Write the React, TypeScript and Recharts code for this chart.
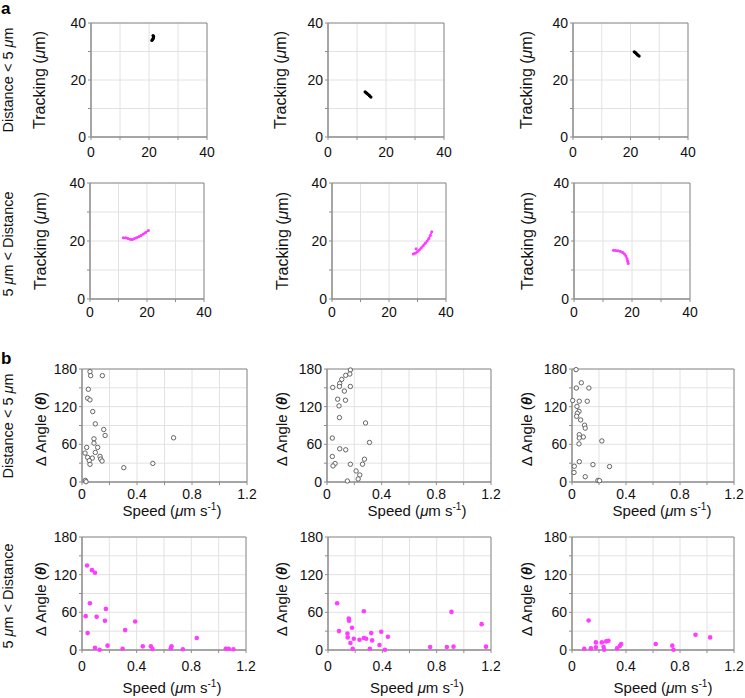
import React from 'react';
import { ScatterChart, Scatter, XAxis, YAxis, CartesianGrid, ReferenceArea } from 'recharts';

const FONT = '"Liberation Sans", Arial, Helvetica, sans-serif';
const MAGENTA = '#ff3cff';

// ---- Panel a: tracking (µm) ----
const trackTicks = [0, 10, 20, 30, 40];
const trackLabels = [0, 20, 40];

const trackNear1 = [
  { x: 21.4, y: 35.6 }, { x: 21.6, y: 35.2 }, { x: 21.5, y: 34.8 }, { x: 21.3, y: 34.3 }, { x: 21.0, y: 33.9 },
];
const trackNear2 = [
  { x: 12.8, y: 15.8 }, { x: 13.3, y: 15.4 }, { x: 13.8, y: 15.0 }, { x: 14.3, y: 14.5 }, { x: 14.8, y: 14.0 },
];
const trackNear3 = [
  { x: 21.3, y: 29.9 }, { x: 21.7, y: 29.6 }, { x: 22.1, y: 29.2 }, { x: 22.5, y: 28.8 }, { x: 23.0, y: 28.4 },
];
const trackFar1 = [
  { x: 11.7, y: 21.1 }, { x: 12.5, y: 21.1 }, { x: 13.3, y: 20.9 }, { x: 14.1, y: 20.6 }, { x: 14.8, y: 20.5 },
  { x: 15.5, y: 20.8 }, { x: 16.3, y: 21.1 }, { x: 17.1, y: 21.5 }, { x: 17.9, y: 21.9 }, { x: 18.7, y: 22.4 },
  { x: 19.5, y: 22.9 }, { x: 20.5, y: 23.6 },
];
const trackFar2 = [
  { x: 28.5, y: 15.5 }, { x: 29.2, y: 15.8 }, { x: 29.9, y: 16.3 }, { x: 30.6, y: 16.9 }, { x: 31.3, y: 17.6 },
  { x: 32.0, y: 18.4 }, { x: 32.7, y: 19.2 }, { x: 33.4, y: 20.0 }, { x: 34.0, y: 20.9 }, { x: 34.5, y: 21.9 },
  { x: 35.0, y: 23.2 },
];
const trackFar2Stray = [{ x: 29.5, y: 17.3 }];
const trackFar3 = [
  { x: 13.6, y: 16.8 }, { x: 14.4, y: 16.7 }, { x: 15.2, y: 16.6 }, { x: 16.0, y: 16.4 }, { x: 16.8, y: 16.0 },
  { x: 17.4, y: 15.5 }, { x: 17.9, y: 14.8 }, { x: 18.3, y: 13.9 }, { x: 18.5, y: 13.0 }, { x: 18.7, y: 12.2 },
];

// ---- Panel b: Δ angle vs speed ----
const speedTicks = [0, 0.2, 0.4, 0.6, 0.8, 1.0, 1.2];
const speedLabels = [0, 0.4, 0.8, 1.2];
const angleTicks = [0, 30, 60, 90, 120, 150, 180];
const angleLabels = [0, 60, 120, 180];

const angleNear1 = [
  { x: 0.058, y: 175.8 }, { x: 0.063, y: 169.4 }, { x: 0.148, y: 169.4 }, { x: 0.046, y: 147.7 },
  { x: 0.041, y: 133.4 }, { x: 0.058, y: 130.8 }, { x: 0.078, y: 112.2 }, { x: 0.097, y: 92.6 },
  { x: 0.158, y: 83.6 }, { x: 0.168, y: 74.1 }, { x: 0.666, y: 70.4 }, { x: 0.087, y: 68.8 },
  { x: 0.087, y: 61.9 }, { x: 0.034, y: 55.1 }, { x: 0.114, y: 55.1 }, { x: 0.022, y: 46.1 },
  { x: 0.097, y: 47.1 }, { x: 0.041, y: 39.2 }, { x: 0.075, y: 38.1 }, { x: 0.131, y: 40.8 },
  { x: 0.136, y: 36.5 }, { x: 0.146, y: 33.4 }, { x: 0.053, y: 33.9 }, { x: 0.058, y: 28.1 },
  { x: 0.304, y: 22.8 }, { x: 0.515, y: 29.6 }, { x: 0.024, y: 2.6 }, { x: 0.029, y: 0.5 },
];
const angleNear2 = [
  { x: 0.171, y: 178.4 }, { x: 0.137, y: 169.9 }, { x: 0.167, y: 172.0 }, { x: 0.108, y: 163.5 },
  { x: 0.093, y: 157.0 }, { x: 0.091, y: 152.2 }, { x: 0.042, y: 150.6 }, { x: 0.171, y: 152.2 },
  { x: 0.127, y: 144.8 }, { x: 0.078, y: 131.9 }, { x: 0.135, y: 130.3 }, { x: 0.088, y: 121.3 },
  { x: 0.091, y: 102.6 }, { x: 0.282, y: 94.0 }, { x: 0.039, y: 70.0 }, { x: 0.311, y: 63.0 },
  { x: 0.093, y: 52.9 }, { x: 0.137, y: 51.3 }, { x: 0.039, y: 40.6 }, { x: 0.274, y: 36.3 },
  { x: 0.059, y: 29.4 }, { x: 0.044, y: 25.6 }, { x: 0.171, y: 28.3 }, { x: 0.26, y: 28.3 },
  { x: 0.213, y: 17.6 }, { x: 0.24, y: 11.2 }, { x: 0.228, y: 4.8 }, { x: 0.149, y: 1.6 },
];
const angleNear3 = [
  { x: 0.03, y: 179.0 }, { x: 0.069, y: 158.0 }, { x: 0.032, y: 149.7 }, { x: 0.125, y: 149.7 },
  { x: 0.005, y: 129.8 }, { x: 0.054, y: 128.7 }, { x: 0.113, y: 128.7 }, { x: 0.037, y: 120.4 },
  { x: 0.052, y: 112.5 }, { x: 0.039, y: 109.4 }, { x: 0.034, y: 104.7 }, { x: 0.064, y: 98.9 },
  { x: 0.093, y: 90.5 }, { x: 0.098, y: 85.8 }, { x: 0.054, y: 75.4 }, { x: 0.084, y: 71.7 },
  { x: 0.054, y: 70.1 }, { x: 0.221, y: 65.4 }, { x: 0.052, y: 60.7 }, { x: 0.054, y: 32.4 },
  { x: 0.155, y: 27.7 }, { x: 0.278, y: 24.6 }, { x: 0.017, y: 25.1 }, { x: 0.015, y: 15.2 },
  { x: 0.098, y: 8.4 }, { x: 0.192, y: 2.6 }, { x: 0.204, y: 2.1 },
];
const angleFar1 = [
  { x: 0.037, y: 134.6 }, { x: 0.073, y: 127.2 }, { x: 0.095, y: 123.0 }, { x: 0.058, y: 74.4 },
  { x: 0.175, y: 65.5 }, { x: 0.027, y: 53.9 }, { x: 0.107, y: 52.8 }, { x: 0.168, y: 46.5 },
  { x: 0.389, y: 45.4 }, { x: 0.041, y: 26.9 }, { x: 0.316, y: 31.7 }, { x: 0.84, y: 19.0 },
  { x: 0.187, y: 6.9 }, { x: 0.095, y: 3.7 }, { x: 0.445, y: 5.8 }, { x: 0.504, y: 5.8 },
  { x: 0.516, y: 1.6 }, { x: 0.297, y: 2.1 }, { x: 0.129, y: 0.5 }, { x: 0.655, y: 5.8 },
  { x: 0.65, y: 2.6 }, { x: 0.738, y: 1.1 }, { x: 1.052, y: 2.1 }, { x: 1.074, y: 2.1 },
  { x: 1.108, y: 1.1 },
];
const angleFar2 = [
  { x: 0.067, y: 74.4 }, { x: 0.264, y: 61.8 }, { x: 0.909, y: 60.7 }, { x: 0.153, y: 50.2 },
  { x: 0.155, y: 46.5 }, { x: 1.131, y: 41.2 }, { x: 0.177, y: 35.4 }, { x: 0.081, y: 30.1 },
  { x: 0.143, y: 26.4 }, { x: 0.318, y: 26.9 }, { x: 0.392, y: 29.0 }, { x: 0.145, y: 20.1 },
  { x: 0.19, y: 18.0 }, { x: 0.264, y: 19.0 }, { x: 0.281, y: 18.0 }, { x: 0.232, y: 16.4 },
  { x: 0.325, y: 15.3 }, { x: 0.441, y: 21.1 }, { x: 0.165, y: 11.1 }, { x: 0.379, y: 7.9 },
  { x: 0.182, y: 2.1 }, { x: 0.308, y: 2.1 }, { x: 0.419, y: 0.3 }, { x: 0.752, y: 4.8 },
  { x: 0.875, y: 4.8 }, { x: 0.924, y: 5.3 }, { x: 1.163, y: 5.3 },
];
const angleFar3 = [
  { x: 0.123, y: 47.0 }, { x: 0.915, y: 24.3 }, { x: 1.023, y: 20.1 }, { x: 0.27, y: 14.8 },
  { x: 0.253, y: 13.7 }, { x: 0.177, y: 12.1 }, { x: 0.221, y: 12.1 }, { x: 0.364, y: 9.5 },
  { x: 0.354, y: 6.3 }, { x: 0.62, y: 9.5 }, { x: 0.743, y: 6.9 }, { x: 0.177, y: 4.2 },
  { x: 0.234, y: 4.8 }, { x: 0.14, y: 2.6 }, { x: 0.091, y: 2.1 }, { x: 0.334, y: 2.6 },
  { x: 0.238, y: 0.5 }, { x: 0.752, y: 0.3 },
];

type Pt = { x: number; y: number };
type Variant = 'trackBlack' | 'trackMagenta' | 'hollow' | 'filled';

const ML = 50, MT = 10, MR = 10, MB = 30;
const AXIS = '#8c8c8c';

function Panel(props: {
  left: number; top: number; w: number; h: number;
  data: Pt[]; extra?: Pt[]; variant: Variant;
  xTicks: number[]; xLabels: number[]; yTicks: number[]; yLabels: number[];
  xGap: number;
}) {
  const { left, top, w, h, data, extra, variant, xTicks, xLabels, yTicks, yLabels, xGap } = props;
  const xMax = xTicks[xTicks.length - 1];
  const yMax = yTicks[yTicks.length - 1];
  const tickStyle = { fontSize: 14, fill: '#111', fontFamily: FONT };
  const fmt = (labels: number[]) => (v: number) => (labels.some((l) => Math.abs(l - v) < 1e-9) ? String(v) : '');

  let shape: any;
  let line: any = false;
  if (variant === 'trackBlack') {
    shape = (p: any) => <circle cx={p.cx} cy={p.cy} r={1.6} fill="#000" />;
    line = { stroke: '#000', strokeWidth: 2.6 };
  } else if (variant === 'trackMagenta') {
    shape = (p: any) => <circle cx={p.cx} cy={p.cy} r={1.5} fill={MAGENTA} />;
    line = { stroke: MAGENTA, strokeWidth: 1.8 };
  } else if (variant === 'hollow') {
    shape = (p: any) => <circle cx={p.cx} cy={p.cy} r={2.2} fill="#fff" stroke="#555" strokeWidth={0.9} />;
  } else {
    shape = (p: any) => <circle cx={p.cx} cy={p.cy} r={2.3} fill={MAGENTA} />;
  }

  return (
    <div style={{ position: 'absolute', left: left - ML, top: top - MT }}>
      <ScatterChart width={w + ML + MR} height={h + MT + MB} margin={{ top: MT, right: MR, bottom: 0, left: 0 }}>
        <CartesianGrid stroke="#e2e2e2" strokeWidth={1} />
        <XAxis
          type="number" dataKey="x" domain={[0, xMax]} ticks={xTicks} interval={0}
          tickFormatter={fmt(xLabels)} height={MB} tickSize={3} tickMargin={xGap}
          axisLine={{ stroke: AXIS }} tickLine={{ stroke: AXIS }} tick={tickStyle}
        />
        <YAxis
          type="number" dataKey="y" domain={[0, yMax]} ticks={yTicks} interval={0}
          tickFormatter={fmt(yLabels)} width={ML} tickSize={3} tickMargin={2}
          axisLine={{ stroke: AXIS }} tickLine={{ stroke: AXIS }} tick={tickStyle}
        />
        <ReferenceArea x1={0} x2={xMax} y1={0} y2={yMax} fill="none" stroke={AXIS} strokeWidth={1} fillOpacity={0} />
        <Scatter data={data} shape={shape} line={line} isAnimationActive={false} />
        {extra ? <Scatter data={extra} shape={shape} isAnimationActive={false} /> : null}
      </ScatterChart>
    </div>
  );
}

function VLabel({ x, y, children, size = 15 }: { x: number; y: number; children: any; size?: number }) {
  return (
    <text transform={`translate(${x},${y}) rotate(-90)`} textAnchor="middle" fontSize={size} fontFamily={FONT} fill="#111">
      {children}
    </text>
  );
}

const Mu = () => <tspan fontStyle="italic">μ</tspan>;

function Tracking({ x, y }: { x: number; y: number }) {
  return (
    <VLabel x={x} y={y} size={16}>
      Tracking (<Mu />m)
    </VLabel>
  );
}
function Angle({ x, y }: { x: number; y: number }) {
  return (
    <VLabel x={x} y={y} size={15}>
      Δ Angle (<tspan fontStyle="italic" fontWeight="bold">θ</tspan>)
    </VLabel>
  );
}
function Speed({ x, y, paren = true }: { x: number; y: number; paren?: boolean }) {
  return (
    <text x={x} y={y} textAnchor="middle" fontSize={15} fontFamily={FONT} fill="#111">
      {paren ? 'Speed (' : 'Speed '}<Mu />m s<tspan fontSize={10} dy={-6}>-1</tspan><tspan dy={6}>)</tspan>
    </text>
  );
}

export default function App() {
  return (
    <div style={{ position: 'absolute', left: 0, top: 0, width: 745, height: 698, background: '#fff', overflow: 'hidden' }}>
      {/* Panel a, row 1 */}
      <Panel left={91} top={23} w={116} h={114} data={trackNear1} variant="trackBlack" xTicks={trackTicks} xLabels={trackLabels} yTicks={trackTicks} yLabels={trackLabels} xGap={7} />
      <Panel left={328} top={23} w={116} h={114} data={trackNear2} variant="trackBlack" xTicks={trackTicks} xLabels={trackLabels} yTicks={trackTicks} yLabels={trackLabels} xGap={7} />
      <Panel left={573} top={23} w={115} h={114} data={trackNear3} variant="trackBlack" xTicks={trackTicks} xLabels={trackLabels} yTicks={trackTicks} yLabels={trackLabels} xGap={7} />
      {/* Panel a, row 2 */}
      <Panel left={90} top={183} w={114} h={116} data={trackFar1} variant="trackMagenta" xTicks={trackTicks} xLabels={trackLabels} yTicks={trackTicks} yLabels={trackLabels} xGap={5} />
      <Panel left={332} top={183} w={114} h={116} data={trackFar2} extra={trackFar2Stray} variant="trackMagenta" xTicks={trackTicks} xLabels={trackLabels} yTicks={trackTicks} yLabels={trackLabels} xGap={5} />
      <Panel left={574} top={183} w={116} h={116} data={trackFar3} variant="trackMagenta" xTicks={trackTicks} xLabels={trackLabels} yTicks={trackTicks} yLabels={trackLabels} xGap={5} />
      {/* Panel b, row 1 */}
      <Panel left={82} top={369} w={165} h={113} data={angleNear1} variant="hollow" xTicks={speedTicks} xLabels={speedLabels} yTicks={angleTicks} yLabels={angleLabels} xGap={4} />
      <Panel left={327} top={369} w={164} h={113} data={angleNear2} variant="hollow" xTicks={speedTicks} xLabels={speedLabels} yTicks={angleTicks} yLabels={angleLabels} xGap={4} />
      <Panel left={572} top={369} w={162} h={113} data={angleNear3} variant="hollow" xTicks={speedTicks} xLabels={speedLabels} yTicks={angleTicks} yLabels={angleLabels} xGap={4} />
      {/* Panel b, row 2 */}
      <Panel left={82} top={537} w={164} h={113} data={angleFar1} variant="filled" xTicks={speedTicks} xLabels={speedLabels} yTicks={angleTicks} yLabels={angleLabels} xGap={8} />
      <Panel left={328} top={537} w={163} h={113} data={angleFar2} variant="filled" xTicks={speedTicks} xLabels={speedLabels} yTicks={angleTicks} yLabels={angleLabels} xGap={8} />
      <Panel left={572} top={537} w={162} h={113} data={angleFar3} variant="filled" xTicks={speedTicks} xLabels={speedLabels} yTicks={angleTicks} yLabels={angleLabels} xGap={8} />

      <svg width={745} height={698} style={{ position: 'absolute', left: 0, top: 0, pointerEvents: 'none' }}>
        <text x={1} y={14} fontSize={17} fontWeight="bold" fontFamily={FONT} fill="#000">a</text>
        <text x={1} y={364} fontSize={17} fontWeight="bold" fontFamily={FONT} fill="#000">b</text>

        <VLabel x={13} y={80} size={14.5}>Distance &lt; 5 <Mu />m</VLabel>
        <VLabel x={13} y={244} size={14.5}>5 <Mu />m &lt; Distance</VLabel>
        <VLabel x={13} y={426} size={14.5}>Distance &lt; 5 <Mu />m</VLabel>
        <VLabel x={13} y={596} size={14.5}>5 <Mu />m &lt; Distance</VLabel>

        <Tracking x={45} y={80} />
        <Tracking x={286} y={80} />
        <Tracking x={532} y={80} />
        <Tracking x={46} y={241} />
        <Tracking x={288} y={241} />
        <Tracking x={533} y={241} />

        <Angle x={46} y={429} />
        <Angle x={287} y={429} />
        <Angle x={532} y={429} />
        <Angle x={46} y={599} />
        <Angle x={287} y={599} />
        <Angle x={532} y={599} />

        <Speed x={172} y={516} />
        <Speed x={417} y={516} />
        <Speed x={662} y={516} />
        <Speed x={172} y={693} />
        <Speed x={417} y={693} paren={false} />
        <Speed x={663} y={693} />
      </svg>
    </div>
  );
}
